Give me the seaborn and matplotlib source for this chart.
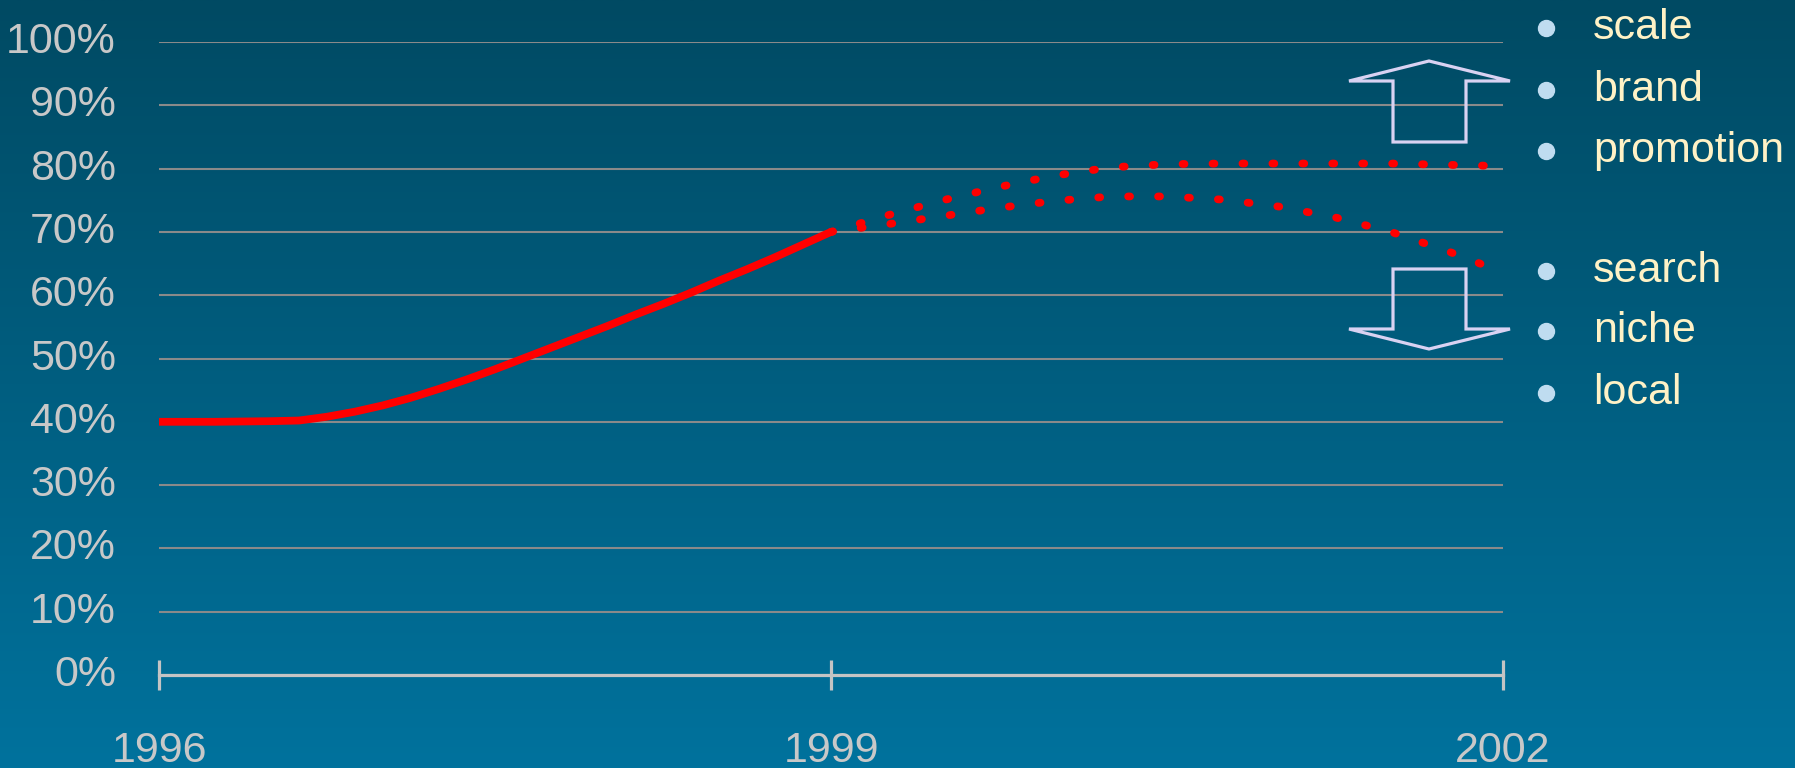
import numpy as np
import pandas as pd
import matplotlib
matplotlib.use("Agg")
import matplotlib.pyplot as plt
from matplotlib.patches import Polygon
import seaborn as sns

# ---------------- data ----------------
hist_years = [1996.0, 1996.125, 1996.25, 1996.375, 1996.5, 1996.625, 1996.75, 1996.875,
              1997.0, 1997.125, 1997.25, 1997.375, 1997.5, 1997.625, 1997.75, 1997.875,
              1998.0, 1998.125, 1998.25, 1998.375, 1998.5, 1998.625, 1998.75, 1998.875, 1999.0]
hist_share = [40.0, 40.0, 40.0, 40.05, 40.1, 40.2, 40.8, 41.6,
              42.6, 43.8, 45.2, 46.7, 48.3, 50.0, 51.7, 53.4,
              55.1, 56.9, 58.6, 60.4, 62.3, 64.1, 66.0, 68.0, 70.0]

proj_years = [1999.0, 1999.25, 1999.5, 1999.75, 2000.0, 2000.25, 2000.5, 2000.75,
              2001.0, 2001.25, 2001.5, 2001.75, 2002.0]
proj_high = [70.0, 72.6, 75.0, 77.1, 78.9, 80.2, 80.7, 80.8, 80.8, 80.8, 80.8, 80.6, 80.4]
proj_low = [70.0, 71.2, 72.5, 73.8, 74.9, 75.6, 75.6, 75.1, 74.0, 72.3, 70.0, 67.0, 63.6]

year_ticks = [1996, 1999, 2002]
pct_ticks = [0, 10, 20, 30, 40, 50, 60, 70, 80, 90, 100]
pct_labels = [f"{v}%" for v in pct_ticks]

up_items = ["scale", "brand", "promotion"]
down_items = ["search", "niche", "local"]

# ---------------- style ----------------
sns.set_style("white")
plt.rcParams["font.family"] = ["Liberation Sans", "DejaVu Sans"]

W, H, DPI = 1795, 768, 100
fig = plt.figure(figsize=(W / DPI, H / DPI), dpi=DPI)

# gradient background
bg = fig.add_axes([0, 0, 1, 1], zorder=0)
top = np.array([0x00, 0x4A, 0x63]) / 255
bot = np.array([0x00, 0x72, 0x9D]) / 255
t = np.linspace(0, 1, 256)[:, None]
grad = top[None, None, :] * (1 - t[:, :, None]) + bot[None, None, :] * t[:, :, None]
grad = np.repeat(grad, 2, axis=1)
bg.imshow(grad, aspect="auto", extent=[0, 1, 0, 1])
bg.set_axis_off()

ax = fig.add_axes([159 / W, (H - 675) / H, 1344 / W, 633 / H], zorder=1)
ax.set_facecolor("none")

hist_df = pd.DataFrame({"year": hist_years, "share": hist_share})
high_df = pd.DataFrame({"year": proj_years, "share": proj_high})
low_df = pd.DataFrame({"year": proj_years, "share": proj_low})

sns.lineplot(data=hist_df, x="year", y="share", ax=ax, color="#FF0000",
             errorbar=None, zorder=5)
solid_line = ax.lines[-1]
solid_line.set_linewidth(5.6)
solid_line.set_solid_capstyle("round")
solid_line.set_solid_joinstyle("round")

for df in (high_df, low_df):
    sns.lineplot(data=df, x="year", y="share", ax=ax, color="#FF0000",
                 errorbar=None, zorder=5)
    ln = ax.lines[-1]
    ln.set_linewidth(5.6)
    ln.set_linestyle((0, (0.25, 3.6)))
    ln.set_dash_capstyle("round")

ax.set_xlim(1996, 2002)
ax.set_ylim(0, 100)
ax.set_xlabel("")
ax.set_ylabel("")
ax.set_yticks(pct_ticks)
ax.set_yticklabels(pct_labels)
ax.set_xticks(year_ticks)
ax.set_xticklabels([str(y) for y in year_ticks])

for s in ("top", "right", "left"):
    ax.spines[s].set_visible(False)
ax.spines["bottom"].set_color("#C4C4C4")
ax.spines["bottom"].set_linewidth(2.3)
ax.spines["bottom"].set_zorder(4)

ax.yaxis.grid(True, color="#8A8A8A", lw=1.5)
ax.xaxis.grid(False)
ax.set_axisbelow(True)

ax.tick_params(axis="y", left=False, length=0, pad=31, labelsize=31, labelcolor="#C8C8C8")
ax.tick_params(axis="x", bottom=True, direction="inout", length=21, width=2.3,
               color="#C4C4C4", pad=30, labelsize=31, labelcolor="#C8C8C8")
for lab in ax.get_yticklabels():
    lab.set_verticalalignment("center")

# right-hand bullet lists
def fx(x):
    return x / W

def fy(y):
    return 1 - y / H

baselines_up = [39, 101, 162]
baselines_down = [282, 342, 404]
for items, bases in ((up_items, baselines_up), (down_items, baselines_down)):
    for txt, b in zip(items, bases):
        fig.text(fx(1593), fy(b), txt, fontsize=31, color="#FFF2C6",
                 va="baseline", ha="left", zorder=5)
        ax.plot([fx(1546)], [fy(b - 11)], marker="o", ms=11.5, color="#BFDCF0",
                transform=fig.transFigure, clip_on=False, zorder=5)

# arrows
up_arrow = [(1429, 61), (1510, 81), (1466, 81), (1466, 142), (1393, 142), (1393, 81), (1349, 81)]
down_arrow = [(1429, 349), (1510, 329), (1466, 329), (1466, 269), (1393, 269), (1393, 329), (1349, 329)]
for poly in (up_arrow, down_arrow):
    pts = [(fx(x), fy(y)) for x, y in poly]
    fig.patches.append(Polygon(pts, closed=True, fill=False, edgecolor="#D9D2F2",
                               lw=2.3, transform=fig.transFigure, zorder=6))

fig.savefig("out.png", dpi=DPI)
